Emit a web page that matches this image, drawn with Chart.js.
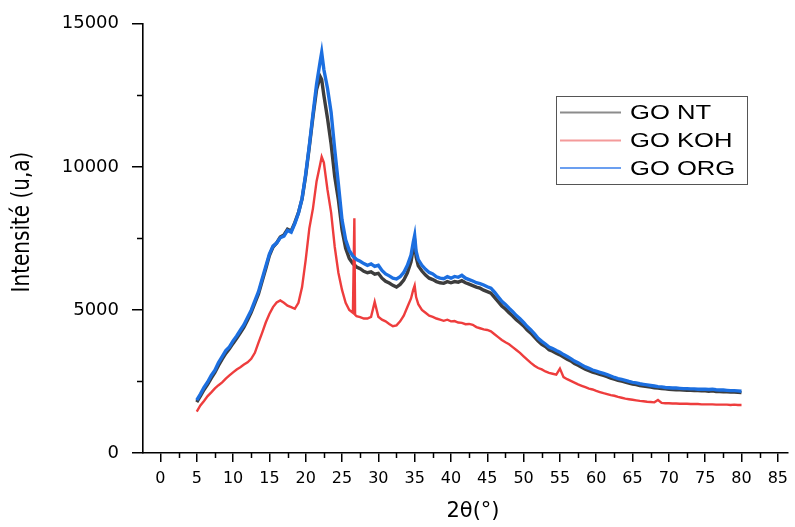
<!DOCTYPE html>
<html>
<head>
<meta charset="utf-8">
<script src="https://cdn.jsdelivr.net/npm/chart.js"></script>
<style>
  html, body { margin: 0; padding: 0; background: #fff; }
</style>
</head>
<body>
<canvas id="xrdChart" width="795" height="527"></canvas>
<script>
// 2θ positions (degrees) shared by the three patterns
const angles = [
  5, 5.5, 6, 6.5, 7, 7.5, 8, 8.5, 9, 9.5,
  10, 10.5, 11, 11.5, 12, 12.5, 13, 13.5, 14, 14.5,
  15, 15.5, 16, 16.5, 17, 17.5, 18, 18.5, 19, 19.5,
  20, 20.5, 21, 21.5, 22, 22.2, 22.5, 23, 23.5, 24, 24.5,
  25, 25.5, 26, 26.5, 26.7, 26.8, 27, 27.5, 28, 28.5, 29, 29.5,
  30, 30.5, 31, 31.5, 32, 32.5, 33, 33.5, 34, 34.5, 34.8,
  35, 35.2, 35.5, 36, 36.5, 37, 37.5, 38, 38.5, 39, 39.5,
  40, 40.5, 41, 41.5, 42, 42.5, 43, 43.5, 44, 44.5,
  45, 45.5, 46, 46.5, 47, 47.5, 48, 48.5, 49, 49.5,
  50, 50.5, 51, 51.5, 52, 52.5, 53, 53.5, 54, 54.5,
  55, 55.5, 56, 56.5, 57, 57.5, 58, 58.5, 59, 59.5,
  60, 60.5, 61, 61.5, 62, 62.5, 63, 63.5, 64, 64.5,
  65, 65.5, 66, 66.5, 67, 67.5, 68, 68.5, 69, 69.5,
  70, 70.5, 71, 71.5, 72, 72.5, 73, 73.5, 74, 74.5,
  75, 75.5, 76, 76.5, 77, 77.5, 78, 78.5, 79, 79.5,
  80
];

const goNT = [
  1780, 1990, 2210, 2400, 2620, 2820, 3060, 3280, 3480, 3640,
  3830, 4010, 4200, 4400, 4650, 4920, 5240, 5560, 6000, 6440,
  6900, 7200, 7340, 7550, 7620, 7820, 7760, 8050, 8400, 8880,
  9700, 10700, 11750, 12700, 13150, 13050, 12500, 11700, 10800, 9650, 8850,
  7800, 7150, 6800, 6620, 6570, 6550, 6500, 6440, 6350, 6300, 6330, 6250,
  6280, 6110, 6000, 5940, 5860, 5800, 5890, 6040, 6300, 6680, 7150,
  7400, 6850, 6540, 6360, 6220, 6110, 6060, 5990, 5950, 5930, 5990,
  5950, 5990, 5970, 6020, 5950, 5900, 5850, 5800, 5760, 5690,
  5640, 5590, 5440, 5290, 5140, 5030, 4900, 4790, 4660, 4550,
  4440, 4300, 4190, 4050, 3910, 3800, 3720, 3610, 3560, 3490,
  3430, 3350, 3280, 3220, 3130, 3070, 3000, 2930, 2880, 2830,
  2790, 2750, 2710, 2670, 2620, 2580, 2540, 2510, 2480, 2440,
  2410, 2390, 2360, 2340, 2320, 2300, 2280, 2270, 2250, 2240,
  2230, 2220, 2210, 2210, 2200, 2190, 2190, 2180, 2180, 2170,
  2170, 2160, 2170, 2150, 2150, 2140, 2140, 2130, 2130, 2120,
  2110
];

const goKOH = [
  1450, 1660, 1820, 1990, 2120, 2260, 2370, 2470, 2600, 2710,
  2820, 2920, 3000, 3090, 3170, 3290, 3500, 3860, 4200, 4560,
  4860, 5100, 5260, 5330, 5250, 5150, 5100, 5040, 5250, 5800,
  6750, 7850, 8550, 9500, 10100, 10350, 10150, 9200, 8400, 7200, 6300,
  5700, 5250, 5000, 4900, 8200, 4830, 4780, 4750, 4700, 4700, 4760, 5280,
  4760, 4660, 4600, 4510, 4430, 4460, 4600, 4800, 5100, 5400, 5700,
  5850, 5450, 5200, 5000, 4900, 4800, 4760, 4700, 4660, 4620, 4660,
  4600, 4610, 4560, 4550, 4500, 4510, 4480, 4400, 4360, 4320,
  4300, 4250, 4150, 4050, 3950, 3870, 3800, 3700, 3600, 3500,
  3380, 3260, 3150, 3050, 2970, 2920, 2850, 2800, 2770, 2740,
  2950, 2650, 2580, 2520, 2460, 2400, 2350, 2300, 2250, 2220,
  2170, 2130, 2090, 2060, 2020, 2000, 1960, 1930, 1900, 1880,
  1860, 1840, 1820, 1810, 1790, 1780, 1770, 1850, 1750, 1740,
  1740, 1730, 1730, 1720, 1720, 1720, 1710, 1710, 1710, 1700,
  1700, 1700, 1700, 1690, 1690, 1690, 1690, 1680, 1690, 1680,
  1680
];

const goORG = [
  1850, 2060, 2290, 2480, 2710, 2890, 3160, 3370, 3580, 3710,
  3920, 4090, 4290, 4480, 4740, 4990, 5320, 5640, 6080, 6520,
  6950, 7230, 7340, 7520, 7580, 7780, 7720, 8020, 8380, 8900,
  9750, 10750, 11850, 12900, 13700, 14000, 13400, 12750, 11900, 10600, 9400,
  8150, 7450, 7080, 6880, 6830, 6810, 6760, 6700, 6620, 6560, 6610, 6520,
  6560, 6380, 6260, 6190, 6110, 6080, 6160, 6310, 6560, 6920, 7350,
  7600, 7050, 6760, 6560, 6420, 6310, 6260, 6160, 6110, 6090, 6160,
  6110, 6170, 6140, 6210, 6110, 6060, 6010, 5950, 5920, 5870,
  5810, 5760, 5620, 5460, 5300, 5190, 5060, 4940, 4800, 4690,
  4560, 4420, 4300, 4160, 4010, 3900, 3810, 3700, 3650, 3580,
  3520, 3440, 3370, 3300, 3210, 3150, 3080, 3010, 2960, 2900,
  2860, 2820, 2780, 2740, 2690, 2640, 2600, 2570, 2540, 2500,
  2470, 2450, 2420, 2400, 2380, 2360, 2340, 2320, 2310, 2290,
  2280, 2270, 2270, 2260, 2250, 2250, 2240, 2240, 2230, 2230,
  2230, 2220, 2230, 2210, 2200, 2200, 2190, 2180, 2180, 2170,
  2160
];

const seriesNames = ['GO NT', 'GO KOH', 'GO ORG'];
const xTicks = [0, 5, 10, 15, 20, 25, 30, 35, 40, 45, 50, 55, 60, 65, 70, 75, 80, 85];
const xMinor = [2.5, 7.5, 12.5, 17.5, 22.5, 27.5, 32.5, 37.5, 42.5, 47.5, 52.5, 57.5, 62.5, 67.5, 72.5, 77.5, 82.5];
const yTicks = [0, 5000, 10000, 15000];
const yMinor = [2500, 7500, 12500];

const toPoints = vals => angles.map((a, i) => ({ x: a, y: vals[i] }));

// minor ticks, axis titles and the boxed legend
const decor = {
  id: 'decor',
  afterDraw(chart) {
    const { ctx, scales: { x, y } } = chart;
    ctx.save();
    ctx.strokeStyle = '#000';
    ctx.lineWidth = 1.5;
    ctx.beginPath();
    xMinor.forEach(v => {
      const px = Math.round(x.getPixelForValue(v)) + 0.5;
      ctx.moveTo(px, y.bottom);
      ctx.lineTo(px, y.bottom + 5);
    });
    yMinor.forEach(v => {
      const py = Math.round(y.getPixelForValue(v)) + 0.5;
      ctx.moveTo(x.left, py);
      ctx.lineTo(x.left - 6, py);
    });
    ctx.stroke();

    ctx.fillStyle = '#000';
    ctx.textAlign = 'center';
    ctx.textBaseline = 'middle';

    ctx.save();
    ctx.translate(22, 222);
    ctx.rotate(-Math.PI / 2);
    ctx.scale(1, 1.25);
    ctx.font = '20px "DejaVu Sans"';
    ctx.fillText('Intensité (u,a)', 0, 0);
    ctx.restore();

    ctx.font = '21px "DejaVu Sans"';
    ctx.fillText('2θ(°)', 473, 512);

    // legend
    ctx.strokeStyle = '#555';
    ctx.lineWidth = 1;
    ctx.strokeRect(556.5, 96.5, 191, 88);
    const swatch = ['#8c8c8c', '#f49a9a', '#6b9ff0'];
    const rows = [112.5, 140.5, 168];
    seriesNames.forEach((name, i) => {
      ctx.strokeStyle = swatch[i];
      ctx.lineWidth = 2;
      ctx.beginPath();
      ctx.moveTo(560, rows[i]);
      ctx.lineTo(621, rows[i]);
      ctx.stroke();
      ctx.save();
      ctx.translate(630, rows[i] + 1);
      ctx.scale(1.28, 1);
      ctx.textAlign = 'left';
      ctx.font = '20px "Liberation Sans"';
      ctx.fillStyle = '#000';
      ctx.fillText(name, 0, 0);
      ctx.restore();
    });
    ctx.restore();
  }
};

new Chart(document.getElementById('xrdChart'), {
  type: 'line',
  data: {
    datasets: [
      { label: seriesNames[0], data: toPoints(goNT), borderColor: '#3d3d3d', borderWidth: 3.4, order: 2 },
      { label: seriesNames[1], data: toPoints(goKOH), borderColor: '#ee3d3d', borderWidth: 2.4, order: 1 },
      { label: seriesNames[2], data: toPoints(goORG), borderColor: '#1c6fe0', borderWidth: 3.4, order: 0 }
    ]
  },
  options: {
    responsive: false,
    animation: false,
    devicePixelRatio: 1,
    layout: { padding: { top: 17, right: 0, left: 0, bottom: 0 } },
    elements: { point: { radius: 0 }, line: { tension: 0 } },
    plugins: { legend: { display: false }, tooltip: { enabled: false } },
    scales: {
      x: {
        type: 'linear',
        min: -2.4,
        max: 86.4,
        afterBuildTicks: s => { s.ticks = xTicks.map(v => ({ value: v })); },
        afterFit: s => { s.height = 74; },
        ticks: { color: '#000', font: { family: 'DejaVu Sans', size: 16 }, padding: 7, maxRotation: 0, autoSkip: false, callback: v => String(v) },
        grid: { display: true, drawOnChartArea: false, drawTicks: true, tickLength: 9, color: '#000', lineWidth: 1.5 },
        border: { display: true, color: '#000', width: 1.6 }
      },
      y: {
        min: 0,
        max: 15000,
        afterBuildTicks: s => { s.ticks = yTicks.map(v => ({ value: v })); },
        afterFit: s => { s.width = 143; },
        ticks: { color: '#000', font: { family: 'DejaVu Sans', size: 18 }, padding: 13, callback: v => String(v) },
        grid: { display: true, drawOnChartArea: false, drawTicks: true, tickLength: 11, color: '#000', lineWidth: 1.5 },
        border: { display: true, color: '#000', width: 1.6 }
      }
    }
  },
  plugins: [decor]
});
</script>
</body>
</html>
